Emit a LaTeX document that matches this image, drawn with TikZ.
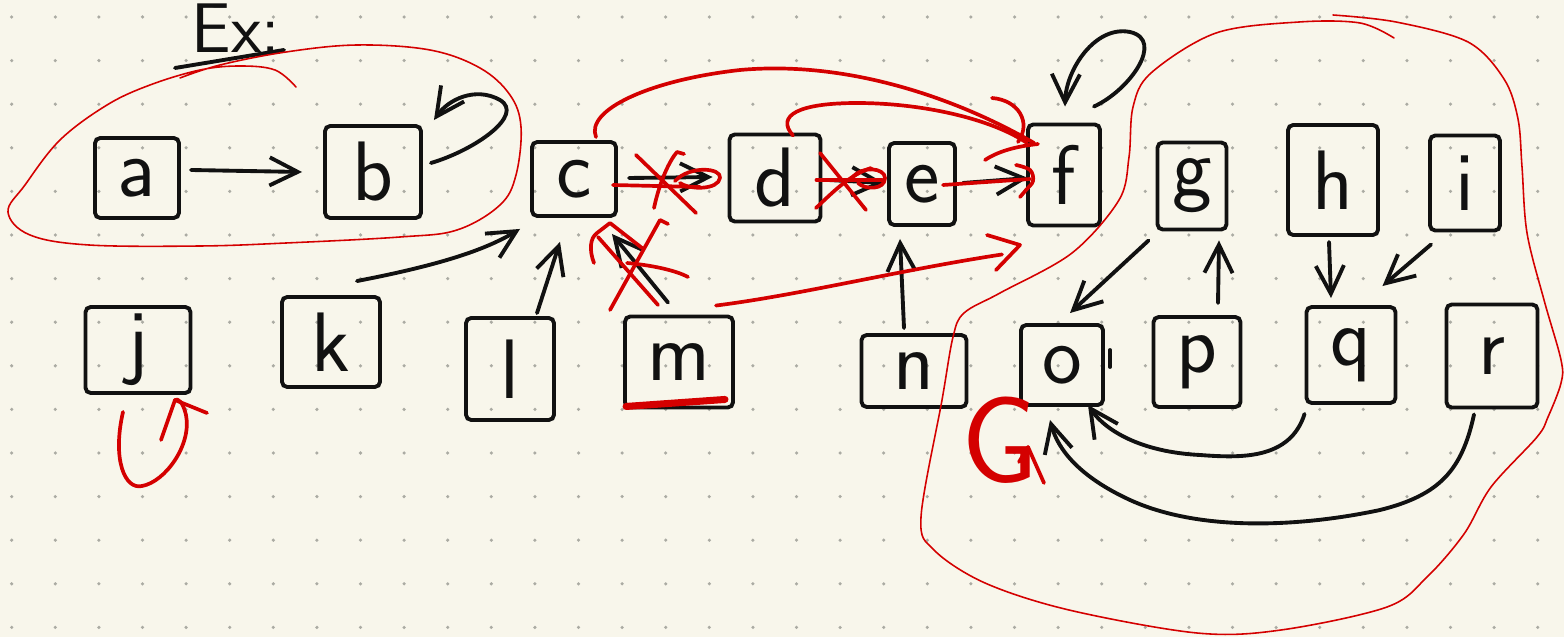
\documentclass[tikz,border=0pt]{standalone}
\usepackage{fontspec}
\usetikzlibrary{arrows.meta}
\definecolor{bgc}{HTML}{F8F6EB}
\definecolor{dotc}{HTML}{ABABA3}
\definecolor{inkc}{HTML}{111111}
\definecolor{redc}{HTML}{D40000}
\tikzset{
  ink/.style={draw=inkc, line width=1.1pt, line cap=round, line join=round},
  arr/.style={ink, -{Straight Barb[length=8pt,width=8pt]}},
  box/.style={draw=inkc, line width=1.1pt, rounded corners=1.5pt, inner sep=0pt,
     font=\sffamily\fontsize{24}{28}\selectfont, text=inkc},
  redthin/.style={draw=redc, line width=0.45pt, line cap=round, line join=round},
  redthick/.style={draw=redc, line width=1.05pt, line cap=round, line join=round},
}
\begin{document}
\begin{tikzpicture}[x=0.01cm,y=-0.01cm]
\fill[bgc] (0,0) rectangle (1564,637);
\useasboundingbox (0,0) rectangle (1564,637);
\foreach \i in {0,...,35}{\foreach \j in {0,...,14}{\fill[dotc] (11.7+43.6*\i,17+43.6*\j) circle (0.5pt);}}

% title
\node[text=inkc, font=\sffamily\fontsize{20}{22}\selectfont, anchor=center] (ex) at (236,28) {Ex:};
\draw[ink] ([shift={(-61,40)}]ex.center) -- ([shift={(48,22)}]ex.center);

% boxes
\node[box, minimum width=0.84cm, minimum height=0.80cm] (a) at (137,178) {a};
\node[box, minimum width=0.96cm, minimum height=0.92cm] (b) at (373,172) {b};
\node[box, minimum width=0.84cm, minimum height=0.74cm] (c) at (574,179) {c};
\node[box, minimum width=0.91cm, minimum height=0.87cm] (d) at (775,178) {d};
\node[box, minimum width=0.66cm, minimum height=0.82cm] (e) at (922,184) {e};
\node[box, minimum width=0.72cm, minimum height=1.01cm] (f) at (1064,175) {f};
\node[box, minimum width=0.69cm, minimum height=0.87cm] (g) at (1192,186) {g};
\node[box, minimum width=0.90cm, minimum height=1.10cm] (h) at (1333,180) {h};
\node[box, minimum width=0.70cm, minimum height=0.95cm] (i) at (1465,183) {i};
\node[box, minimum width=1.05cm, minimum height=0.86cm] (j) at (138,350) {j};
\node[box, minimum width=0.98cm, minimum height=0.90cm] (k) at (331,342) {k};
\node[box, minimum width=0.88cm, minimum height=1.02cm] (l) at (510,369) {l};
\node[box, minimum width=1.08cm, minimum height=0.91cm] (m) at (679,362) {m};
\node[box, minimum width=1.05cm, minimum height=0.72cm] (n) at (914,371) {n};
\node[box, minimum width=0.82cm, minimum height=0.80cm] (o) at (1062,365) {o};
\node[box, minimum width=0.87cm, minimum height=0.90cm] (p) at (1197,362) {p};
\node[box, minimum width=0.89cm, minimum height=0.96cm] (q) at (1351,355) {q};
\node[box, minimum width=0.91cm, minimum height=1.03cm] (r) at (1492,356) {r};

% black connectors
\draw[arr] ([shift={(10,-8)}]a.east) -- ([shift={(-21,0)}]b.west);
\draw[arr] ([shift={(8,-9)}]b.east) .. controls (475,150) and (525,115) .. (500,100) .. controls (475,86) and (448,100) .. ([shift={(11,-4)}]b.north east);
\draw[arr] ([shift={(-25,-14)}]k.north east) .. controls (440,265) and (485,250) .. ([shift={(-10,11)}]c.south west);
\draw[arr] ([shift={(27,-3)}]l.north) -- ([shift={(-14,24)}]c.south);
\draw[arr] ([shift={(11,-1)}]c.east) -- ([shift={(-15,-1)}]d.west);
\draw[arr] ([shift={(6,2)}]d.east) -- ([shift={(-3,-1)}]e.west);
\draw[arr] ([shift={(6,-1)}]e.east) -- ([shift={(2,3)}]f.west);
\draw[arr] ([shift={(-10,-5)}]n.north) -- ([shift={(-22,12)}]e.south);
\draw[arr] ([shift={(-8,-16)}]f.north east) .. controls (1130,90) and (1165,40) .. (1130,32) .. controls (1095,25) and (1066,70) .. ([shift={(1,-16)}]f.north);
\draw[arr] ([shift={(-7,9)}]g.south west) -- ([shift={(8,-10)}]o.north);
\draw[arr] ([shift={(21,-12)}]p.north) -- ([shift={(27,9)}]g.south);
\draw[arr] ([shift={(-4,5)}]h.south) -- ([shift={(-20,-7)}]q.north);
\draw[arr] ([shift={(3,12)}]i.south west) -- ([shift={(-15,-19)}]q.north east);
\draw[arr] ([shift={(0,9)}]q.south west) .. controls (1290,460) and (1240,458) .. (1200,455) .. controls (1140,452) and (1105,430) .. ([shift={(-17,-2)}]o.south east);
\draw[arr] ([shift={(-18,5)}]r.south) .. controls (1462,470) and (1440,495) .. (1380,510) .. controls (1300,527) and (1200,532) .. (1130,500) .. controls (1080,477) and (1058,450) .. ([shift={(-12,13)}]o.south);
\draw[arr] ([shift={(-11,-12)}]m.north) -- ([shift={(-6,16)}]c.south east);
\draw[ink] ([shift={(5,-15)}]o.east) -- ([shift={(5,2)}]o.east);

% red enclosures
\draw[redthin] plot[smooth, tension=0.6] coordinates {(296,87) (275,70) (240,66) (200,70) (150,85) (107,105) (60,140) (25,185) (8,212) (30,235) (89,245) (200,246) (286,243) (400,237) (457,230) (500,205) (516,175) (521,127) (510,95) (480,68) (430,50) (357,45) (286,52) (220,65) (180,78)};
\draw[redthin] plot[smooth, tension=0.55] coordinates {(1333,15) (1396,22) (1468,42) (1504,79) (1518,119) (1522,167) (1527,233) (1544,300) (1561,360) (1561,383) (1548,417) (1537,437) (1491,487) (1464,534) (1427,577) (1387,607) (1281,630) (1197,633) (1069,610) (985,583) (934,550) (921,517) (942,400) (953,337) (964,313) (1000,293) (1072,253) (1119,200) (1129,157) (1133,107) (1151,73) (1216,33) (1299,22) (1360,23) (1394,38)};

% red arcs towards f
\draw[redthick] ([shift={(22,-3)}]c.north) .. controls (585,110) and (650,80) .. (740,70) .. controls (850,60) and (960,100) .. ([shift={(8,-32)}]f.west);
\draw[redthick] ([shift={(18,3)}]d.north) .. controls (775,115) and (800,103) .. (857,103) .. controls (920,103) and (990,118) .. ([shift={(1,-32)}]f.west);
\draw[redthick] (985,160) .. controls (1000,150) and (1020,146) .. (1038,144);
\draw[redthick] (992,98) .. controls (1018,100) and (1032,122) .. (1018,142);
\draw[redthick] ([shift={(21,1)}]e.center) -- ([shift={(4,4)}]f.west);
\draw[redthick] plot[smooth, tension=0.6] coordinates {(1016,165) (1030,170) (1033,181) (1026,190) (1020,197)};
\draw[redthick] ([shift={(-19,-9)}]m.north east) .. controls (800,295) and (900,270) .. ([shift={(-24,27)}]f.south west);
\draw[redthick] (987,235) -- (1020,245) -- (996,270);

% red cross-outs c->d
\draw[redthick] ([shift={(-5,6)}]c.east) -- (700,187);
\draw[redthick] (675,181) .. controls (690,165) and (722,168) .. (720,178) .. controls (718,190) and (690,190) .. (680,183);
\draw[redthick] (636,155) -- (696,213);
\draw[redthick] (654,208) .. controls (660,180) and (670,160) .. (677,152) -- (684,154);
% red cross-outs d->e
\draw[redthick] ([shift={(-6,2)}]d.east) -- ([shift={(-5,-4)}]e.west);
\draw[redthick] (852,178) .. controls (862,165) and (885,168) .. (885,178) .. controls (885,190) and (865,190) .. (858,183);
\draw[redthick] (820,153) -- (866,210);
\draw[redthick] (816,208) .. controls (835,190) and (850,175) .. (871,168);
% red cross-out m->c
\draw[redthick] (610,310) -- (660,220) -- (668,224);
\draw[redthick] (598,237) -- (658,305);
\draw[redthick] (627,263) .. controls (650,265) and (675,270) .. (688,277);
\draw[redthick] (594,263) .. controls (589,250) and (590,238) .. (597,233) -- (610,223) -- (642,248);
% red underline of m
\draw[redc, line width=2pt, line cap=round] ([shift={(3,-3)}]m.south west) -- ([shift={(-10,-10)}]m.south east);
% red self loop at j
\draw[redthick] ([shift={(-15,17)}]j.south) .. controls (112,460) and (125,490) .. (142,486) .. controls (165,482) and (192,445) .. (186,415) .. controls (183,402) and (178,398) .. (175,400);
\draw[redthick] (161,440) -- (175,400) -- (207,413);
% red G
\node[text=redc, font=\sffamily\fontsize{35}{38}\selectfont] (G) at (1000,440) {G};
\draw[redthick] ([shift={(19,22)}]G.center) -- ([shift={(28,7)}]G.center) -- ([shift={(44,43)}]G.center);
\end{tikzpicture}
\end{document}
